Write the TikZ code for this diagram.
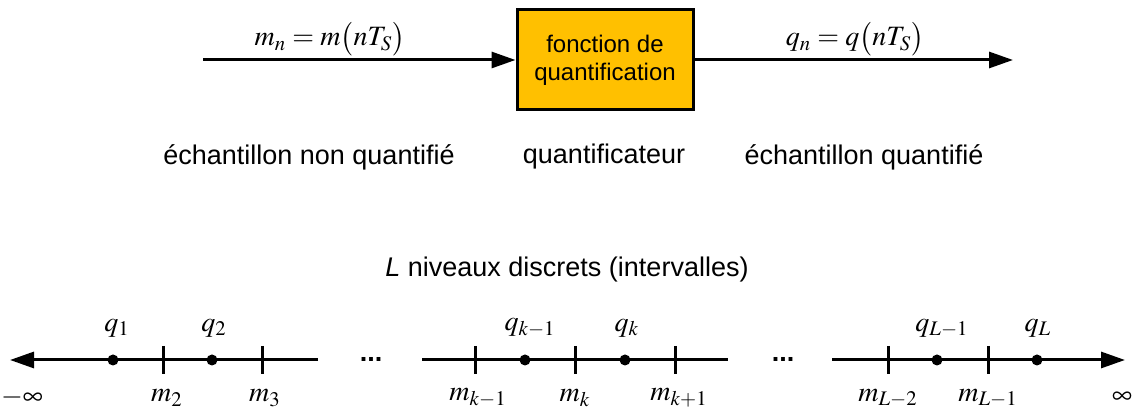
\documentclass[tikz,border=0pt]{standalone}
\usepackage{mathptmx}
\usepackage{fontspec}
\setmainfont{Liberation Sans}
\usetikzlibrary{arrows.meta}
\begin{document}
\begin{tikzpicture}[x=0.5pt,y=-0.5pt,
  arr/.style={line width=1.5pt,-{Triangle[length=12pt,width=8pt]}},
  seg/.style={line width=1.5pt},
  qbox/.style={draw,line width=1.5pt,fill=boxfill,minimum width=88pt,minimum height=50pt,align=center,font=\fontsize{12}{14}\selectfont,inner sep=0pt},
  lbl/.style={font=\fontsize{13.5}{16}\selectfont,inner sep=0pt},
  mth/.style={font=\fontsize{14}{16}\selectfont,inner sep=0pt},
  dot/.style={circle,fill=black,inner sep=0pt,minimum size=5.5pt},
  tk/.style={line width=1.5pt}]
\definecolor{boxfill}{HTML}{FFC000}
\useasboundingbox (0,0) rectangle (1135,415);
% top block
\node[qbox] (Q) at (605,60) {fonction de\\quantification};
\coordinate (in) at (203,60);
\coordinate (out) at (1013,60);
\draw[arr] (in) -- (Q.west);
\draw[arr] (Q.east) -- (out);
\node[mth] (lin) at (330,39) {$m_n = m\bigl(nT_S\bigr)$};
\node[mth] (lout) at (855,39) {$q_n = q\bigl(nT_S\bigr)$};
\node[lbl] (t1) at (309,157) {échantillon non quantifié};
\node[lbl] (t2) at (604,157) {quantificateur};
\node[lbl] (t3) at (864,157) {échantillon quantifié};
\node[lbl] (tL) at (567,270) {\textit{L} niveaux discrets (intervalles)};
% number line
\coordinate (s1a) at (318,360); \coordinate (s1b) at (10,360);
\coordinate (s2a) at (422,360); \coordinate (s2b) at (728,360);
\coordinate (s3a) at (832,360); \coordinate (s3b) at (1125,360);
\draw[arr] (s1a) -- (s1b);
\draw[seg] (s2a) -- (s2b);
\draw[arr] (s3a) -- (s3b);
\foreach \n/\x in {t2/163,t3/262,tk1/475,tk2/575,tk3/675,tL2/888,tL1/988}{
  \coordinate (\n top) at (\x,346); \coordinate (\n bot) at (\x,374);
  \draw[tk] (\n top) -- (\n bot);
}
\foreach \n/\x in {q1/113,q2/212,qk1/525,qk/625,qL1/937,qL/1037}{
  \node[dot] (\n) at (\x,360) {};
}
\node[lbl,anchor=base] (dots1) at (371,362) {\textbf{...}};
\node[lbl,anchor=base] (dots2) at (783,362) {\textbf{...}};
% q labels
\node[mth] (lq1) at (117,328) {$q_1$};
\node[mth] (lq2) at (214,328) {$q_2$};
\node[mth] (lqk1) at (530,328) {$q_{k-1}$};
\node[mth] (lqk) at (627,328) {$q_k$};
\node[mth] (lqL1) at (942,328) {$q_{L-1}$};
\node[mth] (lqL) at (1038,328) {$q_L$};
% m labels
\node[mth] (minf) at (22,398) {$-\infty$};
\node[mth] (lm2) at (167,398) {$m_2$};
\node[mth] (lm3) at (265,398) {$m_3$};
\node[mth] (lmk1) at (478,398) {$m_{k-1}$};
\node[mth] (lmk) at (575,398) {$m_k$};
\node[mth] (lmk2) at (679,398) {$m_{k+1}$};
\node[mth] (lmL2) at (888,398) {$m_{L-2}$};
\node[mth] (lmL1) at (988,398) {$m_{L-1}$};
\node[mth] (pinf) at (1122,398) {$\infty$};
\end{tikzpicture}
\end{document}
